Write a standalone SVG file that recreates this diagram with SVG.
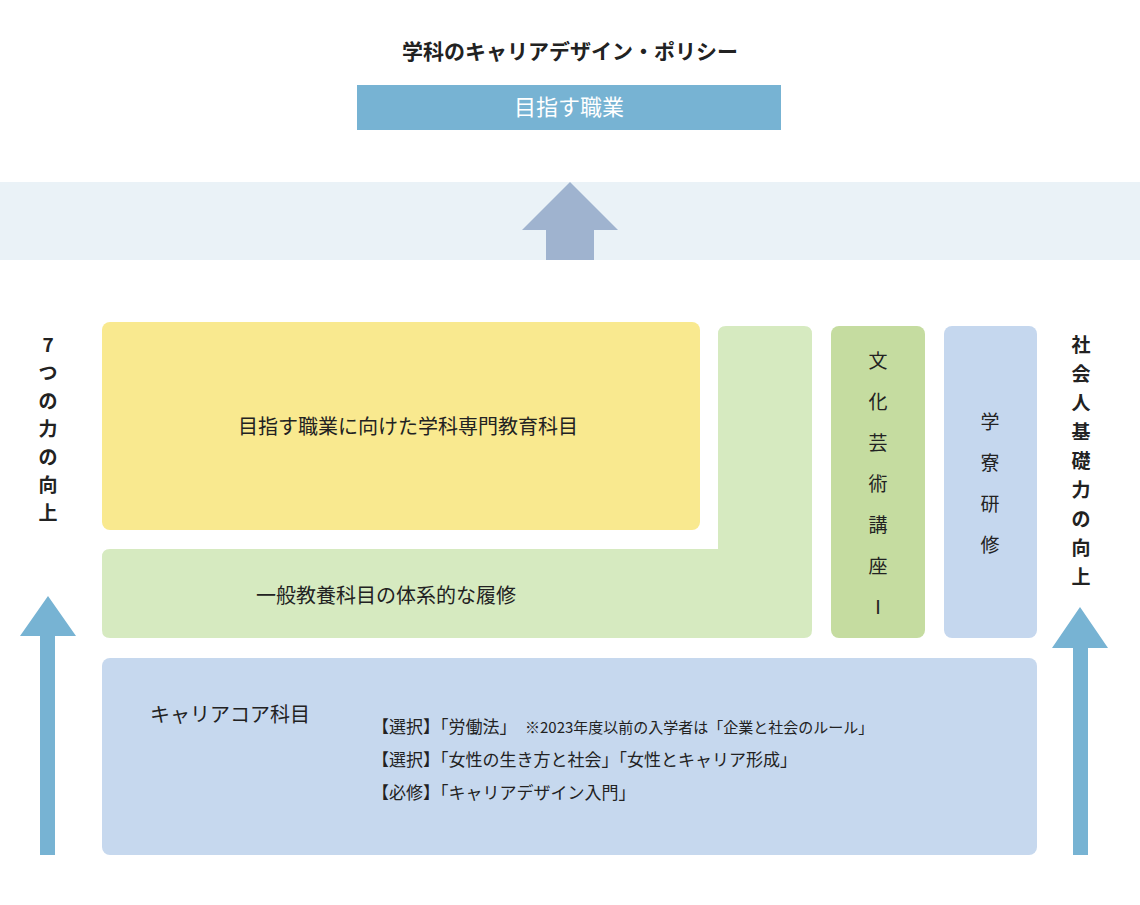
<svg xmlns="http://www.w3.org/2000/svg" width="1140" height="905" viewBox="0 0 1140 905">
<style>
text{font-family:"Noto Sans CJK JP","Noto Sans",sans-serif;fill:#222}
.v{font-size:19px;text-anchor:middle}
.b{font-weight:bold}
.s{font-size:17px}
</style>
<rect width="1140" height="905" fill="#fff"/>
<text x="570" y="59" text-anchor="middle" font-size="21" class="b">学科のキャリアデザイン・ポリシー</text>
<g id="goal"><rect x="357" y="85" width="424" height="45" fill="#77b3d3"/><text x="569" y="115" text-anchor="middle" font-size="22" style="fill:#fff">目指す職業</text></g>
<rect x="0" y="182" width="1140" height="78" fill="#eaf2f7"/>
<g id="connectors">
<polygon points="570,182 618,230 594,230 594,260 546,260 546,230 522,230" fill="#9fb3cf"/>
<polygon points="48,596 76,636 55,636 55,855 40,855 40,636 20,636" fill="#77b3d3"/>
<polygon points="1080,607 1108,648 1088,648 1088,855 1073,855 1073,648 1052,648" fill="#77b3d3"/>
</g>
<g id="left-label" class="v b">
<text x="48" y="352">7</text><text x="48" y="380">つ</text><text x="48" y="408">の</text><text x="48" y="436">力</text><text x="48" y="464">の</text><text x="48" y="492">向</text><text x="48" y="520">上</text>
</g>
<g id="right-label" class="v b">
<text x="1081" y="352">社</text><text x="1081" y="381">会</text><text x="1081" y="410">人</text><text x="1081" y="439">基</text><text x="1081" y="468">礎</text><text x="1081" y="497">力</text><text x="1081" y="526">の</text><text x="1081" y="555">向</text><text x="1081" y="584">上</text>
</g>
<g id="general"><path d="M726,326 H804 Q812,326 812,334 V630 Q812,638 804,638 H110 Q102,638 102,630 V557 Q102,549 110,549 H718 V334 Q718,326 726,326 Z" fill="#d6eac0"/>
<text x="386" y="603" text-anchor="middle" font-size="20">一般教養科目の体系的な履修</text></g>
<g id="major"><rect x="102" y="322" width="598" height="208" rx="8" fill="#f9e98f"/>
<text x="408" y="434" text-anchor="middle" font-size="20">目指す職業に向けた学科専門教育科目</text></g>
<g id="culture"><rect x="831" y="326" width="94" height="312" rx="8" fill="#c5dca0"/>
<g class="v" font-size="20"><text x="878" y="368">文</text><text x="878" y="409">化</text><text x="878" y="450">芸</text><text x="878" y="491">術</text><text x="878" y="532">講</text><text x="878" y="573">座</text><text x="878" y="614">Ⅰ</text></g></g>
<g id="dorm"><rect x="944" y="326" width="93" height="312" rx="8" fill="#c5d7ee"/>
<g class="v" font-size="20"><text x="990" y="429">学</text><text x="990" y="470">寮</text><text x="990" y="511">研</text><text x="990" y="552">修</text></g></g>
<g id="core"><rect x="102" y="658" width="935" height="197" rx="8" fill="#c6d8ee"/>
<text x="150" y="722" font-size="20">キャリアコア科目</text>
<text x="372" y="733" class="s">【選択】「労働法」　<tspan font-size="15">※2023年度以前の入学者は「企業と社会のルール」</tspan></text>
<text x="372" y="766" class="s">【選択】「女性の生き方と社会」「女性とキャリア形成」</text>
<text x="372" y="799" class="s">【必修】「キャリアデザイン入門」</text></g>
</svg>
